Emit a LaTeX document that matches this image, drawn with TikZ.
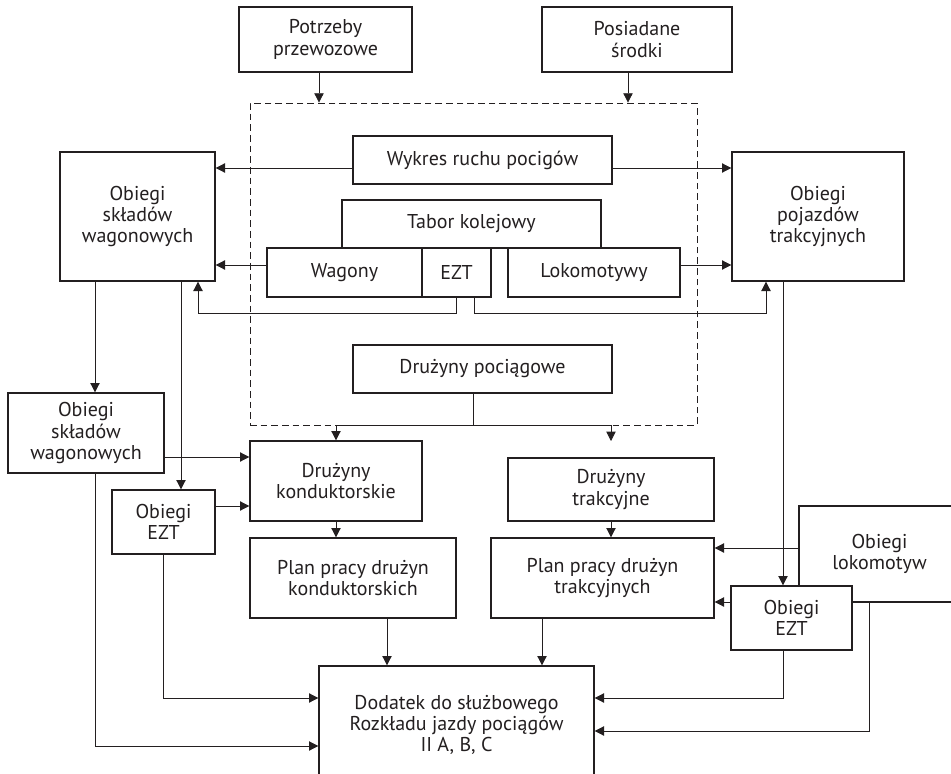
\documentclass[tikz,border=0pt]{standalone}
\usepackage{fontspec}
\setmainfont{PT Sans}
\usetikzlibrary{arrows.meta}
\definecolor{ciemny}{HTML}{231F20}

\begin{document}
\begin{tikzpicture}[x=0.75pt,y=-0.75pt,color=ciemny,
    blok/.style args={#1x#2}{draw, line width=1pt, fill=white, align=center,
      minimum width=#1*0.75pt, minimum height=#2*0.75pt, inner sep=0pt,
      font=\fontsize{15}{16}\selectfont},
    strz/.style={-{Triangle[length=7pt,width=7pt]}, line width=0.6pt}]
  \useasboundingbox (0,0) rectangle (951,774);
  % ramka przerywana
  \node[draw, dash pattern=on 5pt off 3pt, line width=0.6pt, inner sep=0pt,
    minimum width=447*0.75pt, minimum height=322*0.75pt] (ramka) at (473.5,264) {};
  % bloki
  \node[blok=173x65] (potrz) at (325.5,39.5) {Potrzeby\\przewozowe};
  \node[blok=190x65] (posiad) at (637,39.5) {Posiadane\\środki};
  \node[blok=259x48] (wykres) at (482.5,160) {Wykres ruchu pocigów};
  \node[blok=155x129] (osw) at (137.5,216.5) {Obiegi\\składów\\wagonowych};
  \node[blok=172x129] (opt) at (818,216.5) {Obiegi\\pojazdów\\trakcyjnych};
  \node[blok=259x48] (tabor) at (471.5,224) {Tabor kolejowy};
  \node[blok=155x49] (wagony) at (344.5,272.5) {Wagony};
  \node[blok=69x49] (ezt) at (456.5,272.5) {EZT};
  \node[blok=172x49] (lok) at (594,272.5) {Lokomotywy};
  \node[blok=259x48] (pociag) at (482.5,369) {Drużyny pociągowe};
  \node[blok=156x80] (osw2) at (86,433) {Obiegi\\składów\\wagonowych};
  \node[blok=172x80] (konduk) at (336,481) {Drużyny\\konduktorskie};
  \node[blok=103x64] (ezt1) at (163.5,522) {Obiegi\\EZT};
  \node[blok=206x80] (plank) at (353,578) {Plan pracy drużyn\\konduktorskich};
  \node[blok=206x63] (trak) at (611,489.5) {Drużyny\\trakcyjne};
  \node[blok=223x80] (plant) at (602.5,578) {Plan pracy drużyn\\trakcyjnych};
  \node[blok=161x96] (lokob) at (879.5,554) {Obiegi\\lokomotyw};
  \node[blok=121x64] (ezt2) at (791.5,618) {Obiegi\\EZT};
  \node[blok=275x118] (dodatek) at (456.5,725) {Dodatek do służbowego\\Rozkładu jazdy pociągów\\II A, B, C};
  \coordinate (trakwe) at (611,441);
  % polaczenia
  \begin{scope}[strz]
    \draw (potrz.south -| 319,0) -- (ramka.north -| 319,0);
    \draw (posiad.south -| 628,0) -- (ramka.north -| 628,0);
    \draw (wykres.west |- 0,168) -- (osw.east |- 0,168);
    \draw (wykres.east |- 0,168) -- (opt.west |- 0,168);
    \draw (wagony.west |- 0,265) -- (osw.east |- 0,265);
    \draw (lok.east |- 0,265) -- (opt.west |- 0,265);
    \draw (ezt.south -| 456,0) |- (198,313) -- (osw.south -| 198,0);
    \draw (ezt.south -| 474,0) |- (766,313) -- (opt.south -| 766,0);
    \draw (osw.south -| 95,0) -- (osw2.north -| 95,0);
    \draw (osw.south -| 181,0) -- (ezt1.north -| 181,0);
    \draw (osw2.east |- 0,457) -- (konduk.west |- 0,457);
    \draw (ezt1.east |- 0,506) -- (konduk.west |- 0,506);
    \draw (osw2.south -| 95,0) |- (dodatek.west |- 0,746);
    \draw (ezt1.south -| 163,0) |- (dodatek.west |- 0,698);
    \draw (pociag.south -| 473,0) -- (473,425) -| (konduk.north);
    \draw (473,425) -| (trakwe);
    \draw (konduk.south) -- (plank.north -| konduk.south);
    \draw (plank.south -| 387,0) -- (dodatek.north -| 387,0);
    \draw (trak.south) -- (plant.north -| trak.south);
    \draw (plant.south -| 542,0) -- (dodatek.north -| 542,0);
    \draw (opt.south -| 783,0) -- (ezt2.north -| 783,0);
    \draw (lokob.west |- 0,548) -- (plant.east |- 0,548);
    \draw (ezt2.west |- 0,602) -- (plant.east |- 0,602);
    \draw (ezt2.south -| 783,0) |- (dodatek.east |- 0,698);
    \draw (lokob.south -| 869,0) |- (dodatek.east |- 0,731);
  \end{scope}
\end{tikzpicture}
\end{document}
